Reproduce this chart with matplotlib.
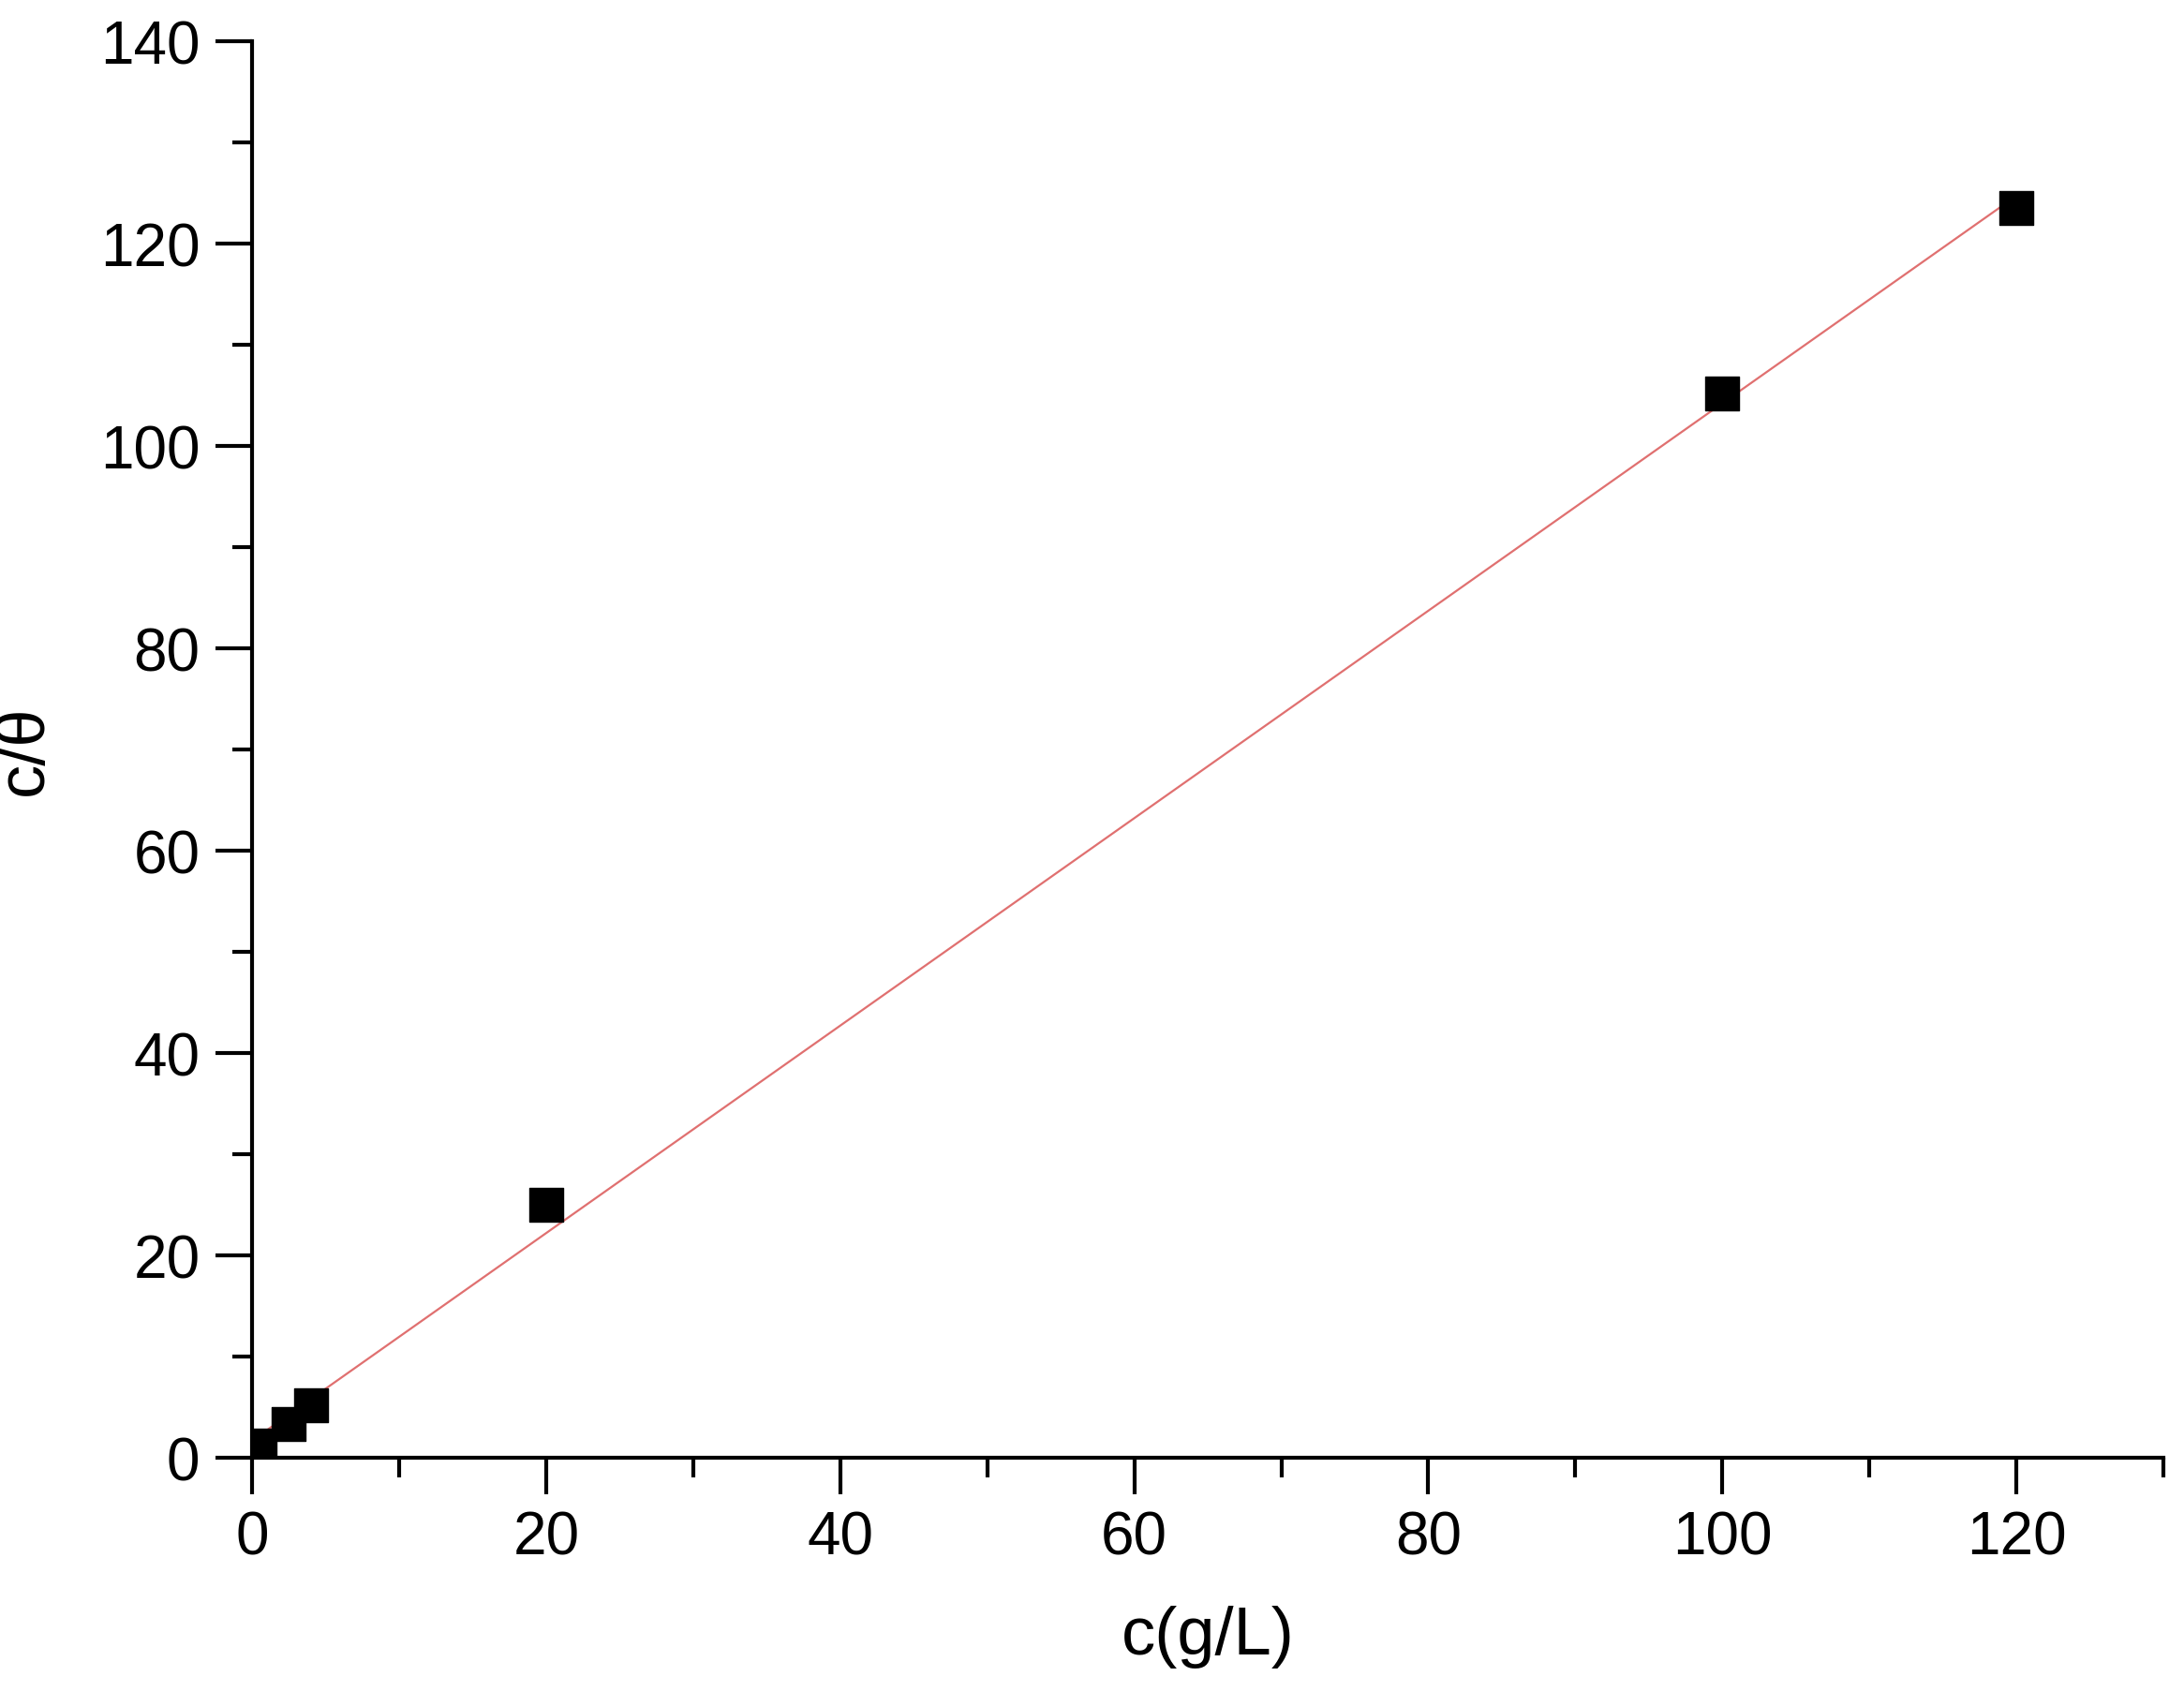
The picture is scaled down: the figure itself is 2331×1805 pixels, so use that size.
import numpy as np
import matplotlib.pyplot as plt
from matplotlib.ticker import MultipleLocator

plt.rcParams['font.family'] = ['Liberation Sans', 'DejaVu Sans']

# measured points
conc = [0.5, 2.5, 4.0, 20.0, 100.0, 120.0]
c_over_theta = [1.2, 3.3, 5.2, 25.0, 105.2, 123.5]

# linear fit
slope, intercept = np.polyfit(conc, c_over_theta, 1)
fit_x = np.array([0.5, 120.0])

fig = plt.figure(figsize=(23.31, 18.06), dpi=100)
ax = fig.add_axes([0.1154, 0.1379, 0.8752, 0.8371])

ax.plot(fit_x, slope * fit_x + intercept, color="#e07070", linewidth=1.6, zorder=2)
ax.scatter(conc, c_over_theta, marker="s", s=700, color="black", zorder=3)

ax.set_xlim(0, 130)
ax.set_ylim(0, 140)
ax.xaxis.set_major_locator(MultipleLocator(20))
ax.xaxis.set_minor_locator(MultipleLocator(10))
ax.yaxis.set_major_locator(MultipleLocator(20))
ax.yaxis.set_minor_locator(MultipleLocator(10))
ax.spines['top'].set_visible(False)
ax.spines['right'].set_visible(False)
for s in ('left', 'bottom'):
    ax.spines[s].set_linewidth(3)
ax.tick_params(which='major', direction='out', length=28, width=3, labelsize=46, pad=12)
ax.tick_params(which='minor', direction='out', length=15, width=3)

ax.set_xlabel("c(g/L)", fontsize=52, labelpad=30)
ax.set_ylabel("c/θ", fontsize=52, labelpad=34)

fig.savefig("out.png", dpi=100)
